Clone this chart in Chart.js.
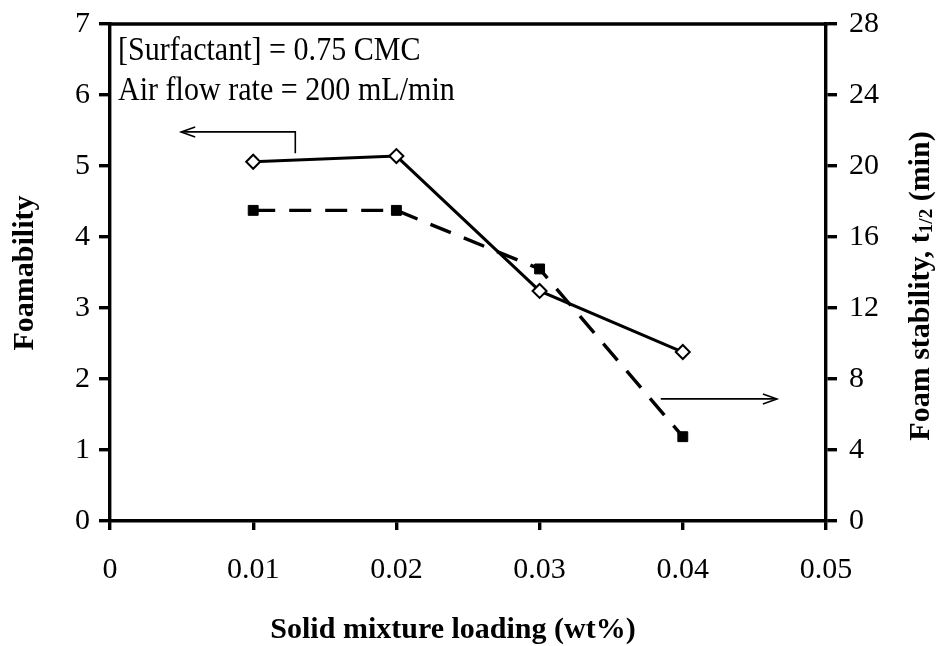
<!DOCTYPE html>
<html>
<head>
<meta charset="utf-8">
<script src="https://cdn.jsdelivr.net/npm/chart.js@4/dist/chart.umd.min.js"></script>
<style>
  html, body { margin: 0; padding: 0; background: #fff; }
  #wrap { width: 938px; height: 646px; position: relative; }
</style>
</head>
<body>
<div id="wrap"><canvas id="c" width="938" height="646"></canvas></div>
<script>
// ---- data ----
const solidLoading = [0.01, 0.02, 0.03, 0.04];          // wt%
const foamability = [5.06, 5.14, 3.24, 2.38];            // left axis
const foamStability = [17.5, 17.5, 14.2, 4.75];          // t1/2 (min), right axis
const xTickValues = [0, 0.01, 0.02, 0.03, 0.04, 0.05];
const xTickLabels = ['0', '0.01', '0.02', '0.03', '0.04', '0.05'];
const leftTickValues = [0, 1, 2, 3, 4, 5, 6, 7];
const rightTickValues = [0, 4, 8, 12, 16, 20, 24, 28];
const noteLines = ['[Surfactant] = 0.75 CMC', 'Air flow rate = 200 mL/min'];
const xTitle = 'Solid mixture loading (wt%)';
const leftTitle = 'Foamability';
const rightTitleParts = ['Foam stability, t', '1/2', ' (min)'];

const SERIF = '"Liberation Serif", "Times New Roman", serif';
const tickFont = { family: '"Liberation Serif", "Times New Roman", serif', size: 30 };

function arrowHead(ctx, x, y, dir) {
  ctx.beginPath();
  ctx.moveTo(x - dir * 14, y - 5);
  ctx.lineTo(x, y);
  ctx.lineTo(x - dir * 14, y + 5);
  ctx.stroke();
}

const decor = {
  id: 'decor',
  afterDraw(chart) {
    const ctx = chart.ctx;
    const xs = chart.scales.x, ys = chart.scales.y;
    const ca = chart.chartArea;
    ctx.save();
    // top frame line
    ctx.strokeStyle = '#000';
    ctx.lineWidth = 3.4;
    ctx.beginPath();
    ctx.moveTo(ca.left - 1.7, ca.top);
    ctx.lineTo(ca.right + 1.7, ca.top);
    ctx.stroke();

    // notes
    ctx.fillStyle = '#000';
    ctx.textAlign = 'left';
    ctx.textBaseline = 'alphabetic';
    ctx.save();
    ctx.translate(ca.left + 8, 0);
    ctx.scale(0.97, 1.08);
    ctx.font = '31px ' + SERIF;
    ctx.fillText(noteLines[0], 0, 60 / 1.08);
    ctx.fillText(noteLines[1], 0, 100 / 1.08);
    ctx.restore();

    // arrow pointing to left axis
    ctx.lineWidth = 1.6;
    const ax1 = xs.getPixelForValue(0.01294), ay1 = ys.getPixelForValue(5.18);
    const ay2 = ys.getPixelForValue(5.48), ax2 = xs.getPixelForValue(0.00497);
    ctx.beginPath();
    ctx.moveTo(ax1, ay1);
    ctx.lineTo(ax1, ay2);
    ctx.lineTo(ax2, ay2);
    ctx.stroke();
    arrowHead(ctx, ax2, ay2, -1);

    // arrow pointing to right axis
    const bx1 = xs.getPixelForValue(0.03846), bx2 = xs.getPixelForValue(0.04657);
    const by = ys.getPixelForValue(1.72);
    ctx.beginPath();
    ctx.moveTo(bx1, by);
    ctx.lineTo(bx2, by);
    ctx.stroke();
    arrowHead(ctx, bx2, by, 1);

    // x title
    ctx.font = 'bold 30px ' + SERIF;
    ctx.textAlign = 'center';
    ctx.textBaseline = 'middle';
    ctx.fillText(xTitle, 453, 630);

    // left title
    ctx.save();
    ctx.translate(25, 273);
    ctx.rotate(-Math.PI / 2);
    ctx.font = 'bold 30px ' + SERIF;
    ctx.fillText(leftTitle, 0, 0);
    ctx.restore();

    // right title with subscript
    ctx.save();
    ctx.translate(921, 286);
    ctx.rotate(-Math.PI / 2);
    ctx.textAlign = 'left';
    ctx.textBaseline = 'middle';
    const mainF = 'bold 30px ' + SERIF, subF = 'bold 19px ' + SERIF;
    ctx.font = mainF; const w0 = ctx.measureText(rightTitleParts[0]).width;
    ctx.font = subF; const w1 = ctx.measureText(rightTitleParts[1]).width;
    ctx.font = mainF; const w2 = ctx.measureText(rightTitleParts[2]).width;
    let x = -(w0 + w1 + w2) / 2;
    ctx.font = mainF; ctx.fillText(rightTitleParts[0], x, 0); x += w0;
    ctx.font = subF; ctx.fillText(rightTitleParts[1], x, 6); x += w1;
    ctx.font = mainF; ctx.fillText(rightTitleParts[2], x, 0);
    ctx.restore();

    ctx.restore();
  }
};

new Chart(document.getElementById('c'), {
  type: 'line',
  data: {
    datasets: [
      {
        label: 'Foamability',
        data: solidLoading.map((x, i) => ({ x, y: foamability[i] })),
        yAxisID: 'y',
        borderColor: '#000',
        borderWidth: 3,
        pointStyle: 'rectRot',
        pointRadius: 7,
        pointBorderWidth: 2,
        pointBackgroundColor: '#fff',
        pointBorderColor: '#000',
        tension: 0
      },
      {
        label: 'Foam stability',
        data: solidLoading.map((x, i) => ({ x, y: foamStability[i] })),
        yAxisID: 'y2',
        borderColor: '#000',
        borderWidth: 3.4,
        borderDash: [22, 14],
        pointStyle: 'rect',
        pointRadius: 7,
        pointBorderWidth: 1,
        pointBackgroundColor: '#000',
        pointBorderColor: '#000',
        tension: 0
      }
    ]
  },
  options: {
    responsive: false,
    animation: false,
    devicePixelRatio: 1,
    layout: { padding: { top: 24, left: 0, right: 0, bottom: 0 } },
    plugins: { legend: { display: false }, tooltip: { enabled: false } },
    scales: {
      x: {
        type: 'linear',
        min: 0, max: 0.05,
        afterBuildTicks: s => { s.ticks = xTickValues.map(v => ({ value: v })); },
        afterFit: s => { s.height = 125; },
        ticks: {
          color: '#000', font: tickFont, padding: 22, maxRotation: 0,
          callback: (v) => { const i = xTickValues.indexOf(v); return i >= 0 ? xTickLabels[i] : ''; }
        },
        grid: { drawOnChartArea: false, drawTicks: true, tickLength: 9, lineWidth: 3.4, color: '#000' },
        border: { display: true, width: 3.4, color: '#000' }
      },
      y: {
        position: 'left',
        min: 0, max: 7,
        afterBuildTicks: s => { s.ticks = leftTickValues.map(v => ({ value: v })); },
        afterFit: s => { s.width = 110; s.paddingTop = 0; s.paddingBottom = 0; },
        ticks: { color: '#000', font: tickFont, padding: 9 },
        grid: { drawOnChartArea: false, drawTicks: true, tickLength: 11, lineWidth: 3.4, color: '#000' },
        border: { display: true, width: 3.4, color: '#000' }
      },
      y2: {
        position: 'right',
        min: 0, max: 28,
        afterBuildTicks: s => { s.ticks = rightTickValues.map(v => ({ value: v })); },
        afterFit: s => { s.width = 112; s.paddingTop = 0; s.paddingBottom = 0; },
        ticks: { color: '#000', font: tickFont, padding: 12 },
        grid: { drawOnChartArea: false, drawTicks: true, tickLength: 11, lineWidth: 3.4, color: '#000' },
        border: { display: true, width: 3.4, color: '#000' }
      }
    }
  },
  plugins: [decor]
});
</script>
</body>
</html>
